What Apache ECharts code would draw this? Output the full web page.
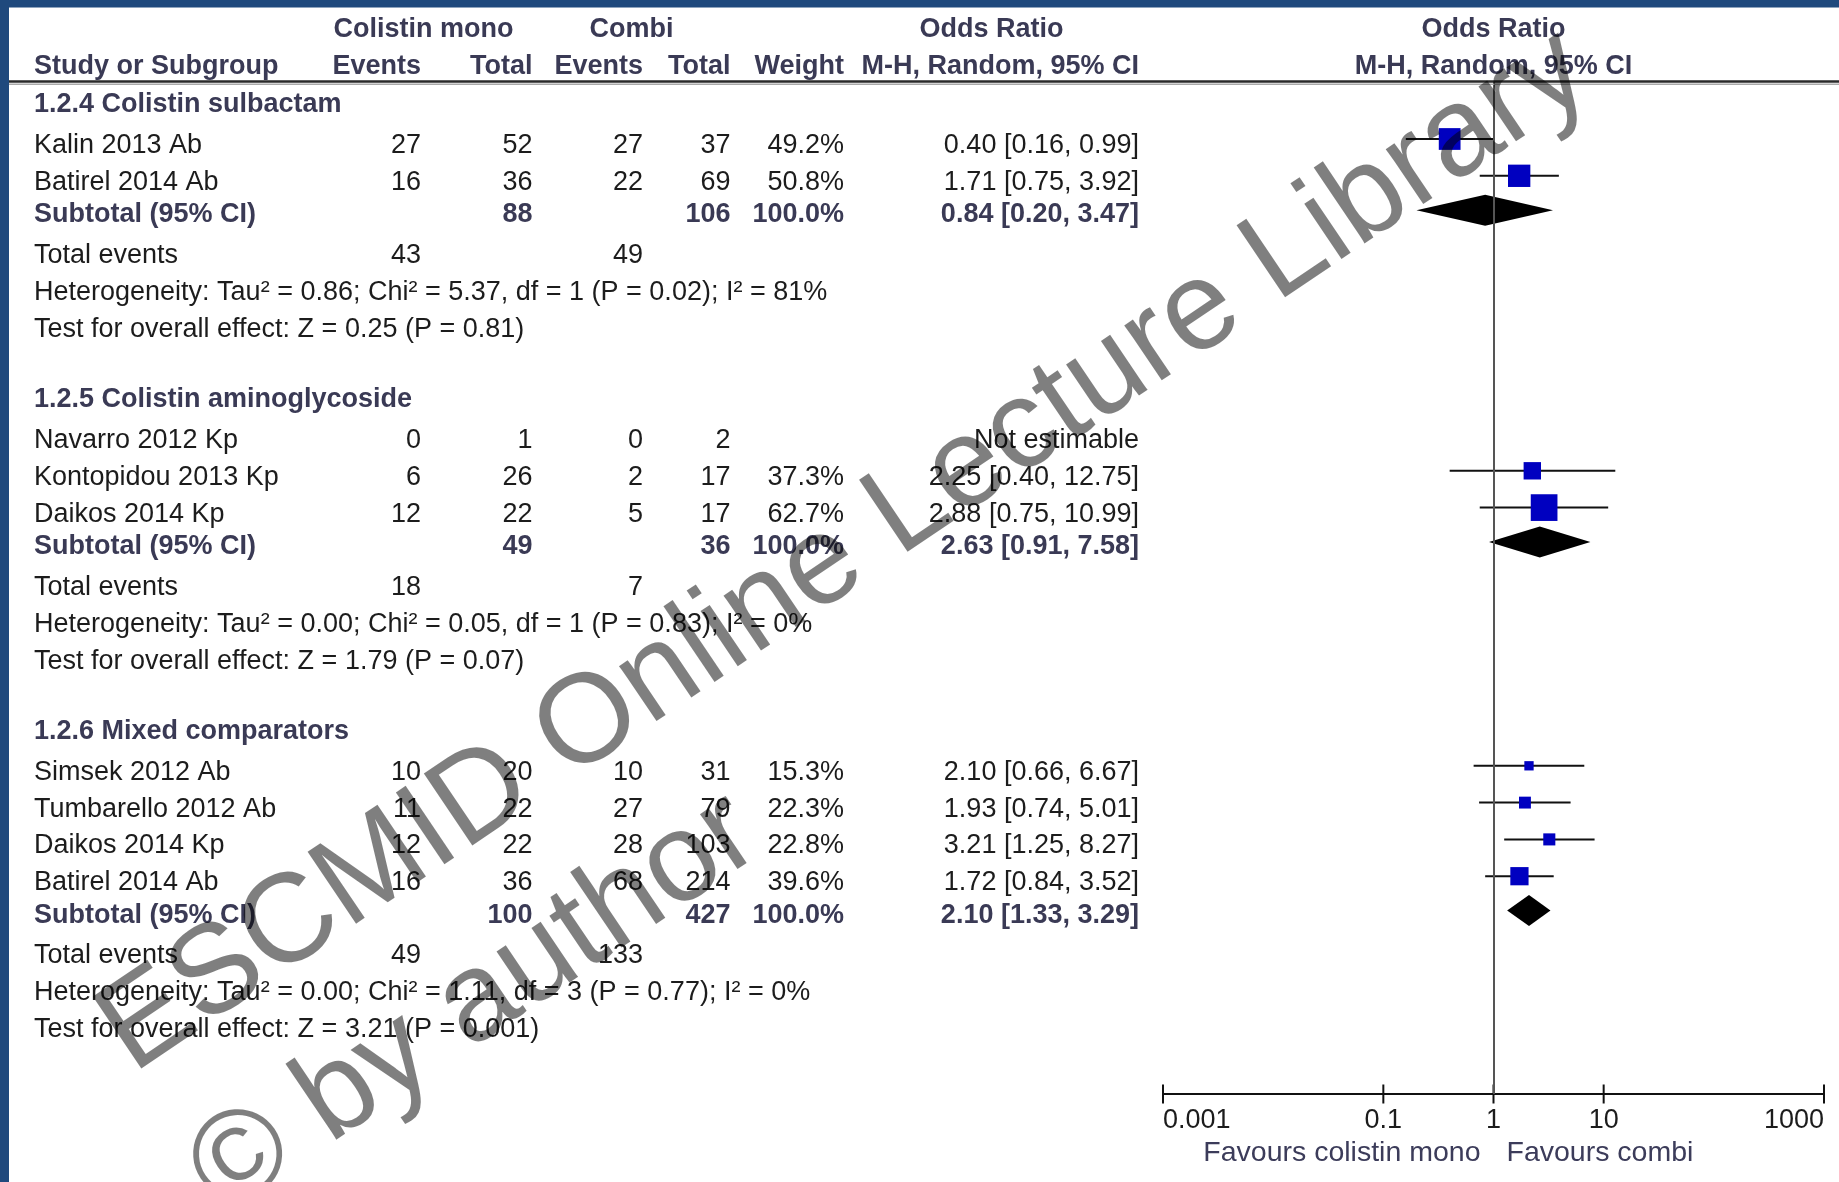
<!DOCTYPE html>
<html><head><meta charset="utf-8">
<script src="https://cdn.jsdelivr.net/npm/echarts@6/dist/echarts.min.js"></script>
<style>html,body{margin:0;padding:0;background:#fff;} #main{width:1839px;height:1182px;}</style>
</head><body><div id="main"></div>
<script>
// ---------------- data ----------------
const groupTitles = ['1.2.4 Colistin sulbactam', '1.2.5 Colistin aminoglycoside', '1.2.6 Mixed comparators'];
const studyGroup  = [0, 0, 1, 1, 1, 2, 2, 2, 2];
const studyNames  = ['Kalin 2013 Ab', 'Batirel 2014 Ab', 'Navarro 2012 Kp', 'Kontopidou 2013 Kp', 'Daikos 2014 Kp',
                     'Simsek 2012 Ab', 'Tumbarello 2012 Ab', 'Daikos 2014 Kp', 'Batirel 2014 Ab'];
const monoEvents  = [27, 16, 0, 6, 12, 10, 11, 12, 16];
const monoTotal   = [52, 36, 1, 26, 22, 20, 22, 22, 36];
const combiEvents = [27, 22, 0, 2, 5, 10, 27, 28, 68];
const combiTotal  = [37, 69, 2, 17, 17, 31, 79, 103, 214];
const weights     = [49.2, 50.8, null, 37.3, 62.7, 15.3, 22.3, 22.8, 39.6];
const orValue     = [0.40, 1.71, null, 2.25, 2.88, 2.10, 1.93, 3.21, 1.72];
const ciLow       = [0.16, 0.75, null, 0.40, 0.75, 0.66, 0.74, 1.25, 0.84];
const ciHigh      = [0.99, 3.92, null, 12.75, 10.99, 6.67, 5.01, 8.27, 3.52];

const subMonoTotal  = [88, 49, 100];
const subCombiTotal = [106, 36, 427];
const subWeight     = [100.0, 100.0, 100.0];
const subOR         = [0.84, 2.63, 2.10];
const subLow        = [0.20, 0.91, 1.33];
const subHigh       = [3.47, 7.58, 3.29];
const totMonoEvents  = [43, 18, 49];
const totCombiEvents = [49, 7, 133];
const hetTau2 = ['0.86', '0.00', '0.00'];
const hetChi2 = ['5.37', '0.05', '1.11'];
const hetDf   = [1, 1, 3];
const hetP    = ['0.02', '0.83', '0.77'];
const hetI2   = [81, 0, 0];
const testZ   = ['0.25', '1.79', '3.21'];
const testP   = ['0.81', '0.07', '0.001'];

const tickValues = [0.001, 0.1, 1, 10, 1000];
const tickLabels = ['0.001', '0.1', '1', '10', '1000'];
const favourLabels = ['Favours colistin mono', 'Favours combi'];
const watermarkLines = ['ESCMID Online Lecture Library', '\u00A9 by author'];

// ---------------- layout ----------------
const W = 1839, H = 1182;
const GRID_TOP = 82, AXIS_Y = 1094, GRID_LEFT = 1163, GRID_RIGHT = 15;
const FONT = '"Liberation Sans", Arial, sans-serif';
const FS = 27;
const TEXT_COLOR = '#1c1c1c', BOLD_COLOR = '#3a3a55', FAV_COLOR = '#3c3c5a';
const X = {name: 34, monoEv: 421, monoTot: 532.5, combiEv: 643, combiTot: 730.5, weight: 844, orTxt: 1139};
const TEXT_DY = 6.5;

const fmt2 = v => v.toFixed(2);
const orText = (o, l, h) => `${fmt2(o)} [${fmt2(l)}, ${fmt2(h)}]`;

const textRows = [];   // {ty, cells}
const studyMarks = []; // [or, yVal, low, high, weight]
const diamonds = [];   // [or, yVal, low, high]

function cell(t, x, align, bold, extra) { return Object.assign({t: String(t), x, align, bold}, extra || {}); }

// header rows
textRows.push({ty: 29.5, cells: [
  cell('Colistin mono', 423.4, 'center', true),
  cell('Combi', 631.6, 'center', true),
  cell('Odds Ratio', 991.6, 'center', true),
  cell('Odds Ratio', null, 'center', true, {dx: 0})
]});
textRows.push({ty: 67, cells: [
  cell('Study or Subgroup', X.name, 'left', true),
  cell('Events', X.monoEv, 'right', true),
  cell('Total', X.monoTot, 'right', true),
  cell('Events', X.combiEv, 'right', true),
  cell('Total', X.combiTot, 'right', true),
  cell('Weight', X.weight, 'right', true),
  cell('M-H, Random, 95% CI', X.orTxt, 'right', true),
  cell('M-H, Random, 95% CI', null, 'center', true, {dx: 0})
]});

let y = GRID_TOP + 16;
groupTitles.forEach((title, g) => {
  textRows.push({ty: y + TEXT_DY, cells: [cell(title, X.name, 'left', true)]});
  y += 41;
  const idx = studyNames.map((_, i) => i).filter(i => studyGroup[i] === g);
  idx.forEach((i, k) => {
    if (k > 0) y += 36.8;
    const cells = [
      cell(studyNames[i], X.name, 'left', false),
      cell(monoEvents[i], X.monoEv, 'right', false),
      cell(monoTotal[i], X.monoTot, 'right', false),
      cell(combiEvents[i], X.combiEv, 'right', false),
      cell(combiTotal[i], X.combiTot, 'right', false)
    ];
    if (orValue[i] == null) {
      cells.push(cell('Not estimable', X.orTxt, 'right', false));
    } else {
      cells.push(cell(weights[i].toFixed(1) + '%', X.weight, 'right', false));
      cells.push(cell(orText(orValue[i], ciLow[i], ciHigh[i]), X.orTxt, 'right', false));
      studyMarks.push([orValue[i], y - GRID_TOP, ciLow[i], ciHigh[i], weights[i]]);
    }
    textRows.push({ty: y + TEXT_DY, cells});
  });
  y += 34.4;
  textRows.push({ty: y + TEXT_DY - 2, cells: [
    cell('Subtotal (95% CI)', X.name, 'left', true),
    cell(subMonoTotal[g], X.monoTot, 'right', true),
    cell(subCombiTotal[g], X.combiTot, 'right', true),
    cell(subWeight[g].toFixed(1) + '%', X.weight, 'right', true),
    cell(orText(subOR[g], subLow[g], subHigh[g]), X.orTxt, 'right', true)
  ]});
  diamonds.push([subOR[g], y - GRID_TOP, subLow[g], subHigh[g]]);
  y += 38.8;
  textRows.push({ty: y + TEXT_DY, cells: [
    cell('Total events', X.name, 'left', false),
    cell(totMonoEvents[g], X.monoEv, 'right', false),
    cell(totCombiEvents[g], X.combiEv, 'right', false)
  ]});
  y += 37;
  textRows.push({ty: y + TEXT_DY, cells: [
    cell(`Heterogeneity: Tau\u00B2 = ${hetTau2[g]}; Chi\u00B2 = ${hetChi2[g]}, df = ${hetDf[g]} (P = ${hetP[g]}); I\u00B2 = ${hetI2[g]}%`, X.name, 'left', false)
  ]});
  y += 37;
  textRows.push({ty: y + TEXT_DY, cells: [
    cell(`Test for overall effect: Z = ${testZ[g]} (P = ${testP[g]})`, X.name, 'left', false)
  ]});
  y += 70;
});

// favours labels under the axis
textRows.push({ty: 1153, cells: [
  cell(favourLabels[0], null, 'right', false, {dx: -13, color: FAV_COLOR, fs: 28.5}),
  cell(favourLabels[1], null, 'left', false, {dx: 13, color: FAV_COLOR, fs: 28.5})
]});

const Y_MAX = AXIS_Y - GRID_TOP;

const chart = echarts.init(document.getElementById('main'), null, {renderer: 'canvas'});
const option = {
  backgroundColor: '#ffffff',
  animation: false,
  grid: {left: GRID_LEFT, right: GRID_RIGHT, top: GRID_TOP, bottom: H - AXIS_Y, containLabel: false},
  xAxis: {
    type: 'log', logBase: 10, min: 0.001, max: 1000, position: 'bottom',
    axisLine: {show: true, onZero: false, lineStyle: {color: '#111', width: 2}},
    axisTick: {show: false},
    splitLine: {show: false},
    axisLabel: {
      show: true, margin: 13, color: '#1c1c1c', fontSize: FS, fontFamily: FONT,
      showMinLabel: true, showMaxLabel: true, hideOverlap: false,
      alignMinLabel: 'left', alignMaxLabel: 'right',
      formatter: v => {
        const k = tickValues.findIndex(t => Math.abs(Math.log10(t) - Math.log10(v)) < 1e-6);
        return k >= 0 ? tickLabels[k] : '';
      }
    }
  },
  yAxis: {type: 'value', inverse: true, min: 0, max: Y_MAX, show: false},
  series: [
    { // axis ticks crossing the axis line
      type: 'custom', clip: false, silent: true,
      data: tickValues.map(v => [v, Y_MAX]),
      renderItem(params, api) {
        const p = api.coord([api.value(0), api.value(1)]);
        return {type: 'line', shape: {x1: p[0], y1: p[1] - 9.5, x2: p[0], y2: p[1] + 9.5},
                style: {stroke: '#111', lineWidth: 2}};
      }
    },
    { // subtotal diamonds + line of no effect
      type: 'custom', clip: false, silent: true,
      data: diamonds,
      renderItem(params, api) {
        const yv = api.value(1);
        const c = api.coord([api.value(0), yv]);
        const lo = api.coord([api.value(2), yv]);
        const hi = api.coord([api.value(3), yv]);
        const hh = 15.5;
        return {type: 'polygon', shape: {points: [[lo[0], c[1]], [c[0], c[1] - hh], [hi[0], c[1]], [c[0], c[1] + hh]]},
                style: {fill: '#000'}};
      },
      markLine: {
        silent: true, symbol: 'none', label: {show: false},
        lineStyle: {color: '#555', width: 2, type: 'solid'},
        data: [{xAxis: 1}]
      }
    },
    { // study squares and CI whiskers
      type: 'custom', clip: false, silent: true, z: 3,
      data: studyMarks,
      renderItem(params, api) {
        const yv = api.value(1);
        const c = api.coord([api.value(0), yv]);
        const lo = api.coord([api.value(2), yv]);
        const hi = api.coord([api.value(3), yv]);
        const s = 3.7 + 0.367 * api.value(4);
        return {type: 'group', children: [
          {type: 'line', shape: {x1: lo[0], y1: c[1], x2: hi[0], y2: c[1]}, style: {stroke: '#111', lineWidth: 2}},
          {type: 'rect', shape: {x: c[0] - s / 2, y: c[1] - s / 2, width: s, height: s}, style: {fill: '#0000c0'}}
        ]};
      }
    },
    { // table text
      type: 'custom', clip: false, silent: true, z: 4,
      data: textRows.map((r, i) => [1, r.ty - GRID_TOP, i]),
      renderItem(params, api) {
        const r = textRows[params.dataIndex];
        const p = api.coord([api.value(0), api.value(1)]);
        return {type: 'group', children: r.cells.map(c => ({
          type: 'text',
          x: c.x == null ? p[0] + (c.dx || 0) : c.x,
          y: p[1],
          style: {
            text: c.t,
            fill: c.color || (c.bold ? BOLD_COLOR : TEXT_COLOR),
            font: `${c.bold ? 'bold ' : ''}${c.fs || FS}px ${FONT}`,
            align: c.align, verticalAlign: 'middle'
          }
        }))};
      }
    }
  ],
  graphic: [
    {type: 'rect', shape: {x: 0, y: 0, width: W, height: 7.5}, style: {fill: '#1f497d'}, z: 50},
    {type: 'rect', shape: {x: 0, y: 0, width: 9, height: H}, style: {fill: '#1f497d'}, z: 50},
    {type: 'line', shape: {x1: 9, y1: 81.5, x2: W, y2: 81.5}, style: {stroke: '#2a2a2a', lineWidth: 2.5}, z: 40},
    {type: 'line', shape: {x1: 9, y1: 84.3, x2: W, y2: 84.3}, style: {stroke: '#aaaaaa', lineWidth: 1.5}, z: 40},
    {type: 'group', x: 138, y: 1082, rotation: 34 * Math.PI / 180, z: 100, silent: true,
     children: watermarkLines.map((t, i) => ({
       type: 'text', x: i * -4, y: -44 + i * 168, z: 100,
       style: {text: t, font: `126px ${FONT}`, fill: 'rgba(0,0,0,0.5)', align: 'left', verticalAlign: 'middle'}
     }))}
  ]
};
chart.setOption(option);
</script>
</body></html>
